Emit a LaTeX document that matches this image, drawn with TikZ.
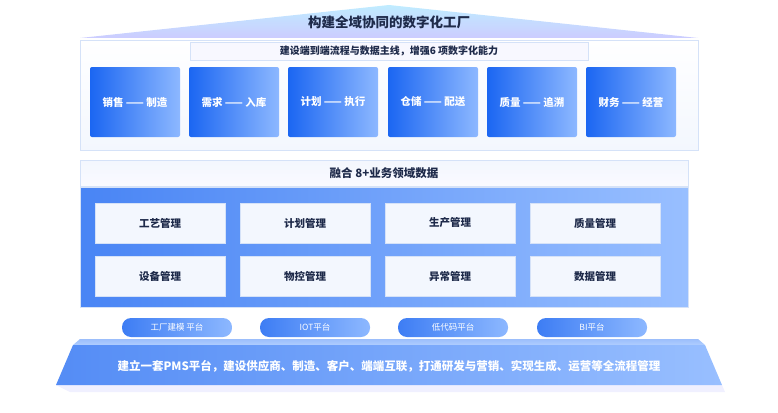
\documentclass[tikz,border=0pt]{standalone}
\usepackage{fontspec}
\setmainfont{Noto Sans CJK SC}
\usetikzlibrary{shadows}
\definecolor{navy}{HTML}{1E2A4A}
\definecolor{bA}{HTML}{1B66F2}
\definecolor{bB}{HTML}{8DB8FF}
\definecolor{pale}{HTML}{F3F7FE}
\definecolor{edge}{HTML}{D5E2F8}
\tikzset{
 x=1pt,y=-1pt,
 capbox/.style={rounded corners=2pt,left color=bA,right color=bB,draw=none},
 inner/.style={fill=pale,draw=edge,line width=0.8pt},
 pill/.style={rounded corners=9pt,left color=bA!85,right color=bB,draw=none},
 wt/.style={text=white,font=\bfseries\fontsize{10.5}{12}\selectfont},
 nt/.style={text=navy,font=\bfseries\fontsize{10.5}{12}\selectfont},
}
\begin{document}
\begin{tikzpicture}
\useasboundingbox (0,0) rectangle (778,412);
% roof
\shade[top color=blue!30!cyan!25,bottom color=white!80!blue] (80,38) -- (389,5) -- (698,38) -- cycle;
\node[text=navy,font=\bfseries\fontsize{13.5}{15}\selectfont] (title) at (389,22) {构建全域协同的数字化工厂};
% top panel
\shade[top color=white,bottom color=pale,draw=edge] (80,40) rectangle (698,150);
\node[draw=edge,fill=pale!70!blue!8,minimum width=398pt,minimum height=18pt,inner sep=0pt,text=navy,font=\bfseries\fontsize{10}{11}\selectfont] (ban) at (389,51) {建设端到端流程与数据主线，增强6 项数字化能力};
\foreach \x/\t [count=\i] in {90/销售 —— 制造,189/需求 —— 入库,288/计划 —— 执行,388/仓储 —— 配送,487/质量 —— 追溯,586/财务 —— 经营}{
 \shade[capbox] (\x,67) rectangle (\x+90,137);
 \node[wt] (c\i) at (\x+45,102) {\t};
}
% band
\shade[top color=pale,bottom color=white!80!blue!10,draw=edge] (80,160) rectangle (688,186);
\node[text=navy,font=\bfseries\fontsize{11.5}{13}\selectfont] (band) at (384,173) {融合 8+业务领域数据};
% blue panel
\shade[left color=bA!80,right color=bB!90,draw=edge] (80,187) rectangle (688,307);
\foreach \x/\y/\t [count=\i] in {95/203/工艺管理,240/203/计划管理,385/203/生产管理,530/203/质量管理,95/256/设备管理,240/256/物控管理,385/256/异常管理,530/256/数据管理}{
 \draw[inner] (\x,\y) rectangle (\x+130,\y+40);
 \node[nt] (m\i) at (\x+65,\y+20) {\t};
}
% pills
\foreach \x/\t [count=\i] in {122/工厂建模 平台,260/IOT平台,398/低代码平台,537/BI平台}{
 \shade[pill] (\x,318) rectangle (\x+110,337);
 \node[text=white,font=\fontsize{8.5}{10}\selectfont] (p\i) at (\x+55,327.5) {\t};
}
% base
\fill[blue!6] (70,392) -- (725,392) -- (722,385) -- (56,385) -- cycle;
\shade[top color=bA!45!bB!60,bottom color=bB!70] (80,339) -- (698,339) -- (705,345) -- (73,345) -- cycle;
\shade[left color=bA!75,right color=bB!90] (73,345) -- (705,345) -- (722,385) -- (56,385) -- cycle;
\node[wt,font=\bfseries\fontsize{11.5}{13}\selectfont] (base) at (389,366) {建立一套PMS平台，建设供应商、制造、客户、端端互联，打通研发与营销、实现生成、运营等全流程管理};
\end{tikzpicture}
\end{document}
